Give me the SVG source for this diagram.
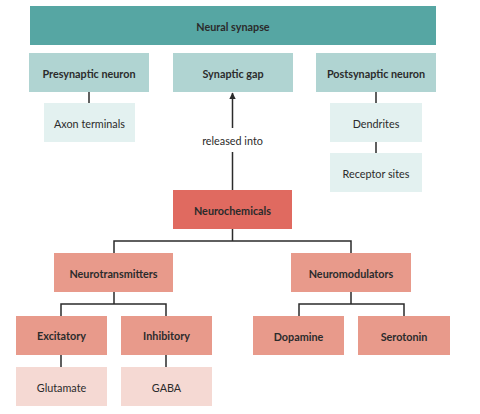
<svg xmlns="http://www.w3.org/2000/svg" width="480" height="414" viewBox="0 0 480 414">
<defs>
<style>
text{font-family:Lato,"Open Sans","Liberation Sans",sans-serif;font-size:10.8px;fill:#2b2b2b;text-anchor:middle;dominant-baseline:central}
.b{font-weight:bold}
.c1{fill:#56a6a3}.c2{fill:#b0d4d2}.c3{fill:#e3f1f0}
.r1{fill:#e06a60}.r2{fill:#e89a8b}.r3{fill:#f5d9d3}
.ln{fill:none;stroke:#2b2b2b;stroke-width:1.5}
</style>
<marker id="ah" markerWidth="8" markerHeight="8" refX="6" refY="4" orient="auto" markerUnits="userSpaceOnUse">
<path d="M0,0.8 L6.5,4 L0,7.2 Z" fill="#2b2b2b"/>
</marker>
</defs>
<rect width="480" height="414" fill="#ffffff"/>
<g id="connectors">
<path class="ln" d="M89,92 V103"/>
<path class="ln" d="M376,92 V103 M376,142 V153"/>
<path class="ln" d="M232.5,190 V152" />
<path class="ln" d="M232.5,128 V93" marker-end="url(#ah)"/>
<text x="232.5" y="140.5">released into</text>
<path class="ln" d="M232.5,229 V241 M114,253 V241 H351 V253"/>
<path class="ln" d="M114,292 V304 M61,316 V304 H166 V316"/>
<path class="ln" d="M351,292 V304 M299,316 V304 H404 V316"/>
<path class="ln" d="M61,355 V367 M166,355 V367"/>
</g>
<g id="n-synapse"><rect class="c1" x="30" y="6" width="406" height="39"/><text class="b" x="233" y="26.5">Neural synapse</text></g>
<g id="n-pre"><rect class="c2" x="29" y="53" width="120" height="39"/><text class="b" x="89" y="73.5">Presynaptic neuron</text></g>
<g id="n-gap"><rect class="c2" x="173" y="53" width="120" height="39"/><text class="b" x="233" y="73.5">Synaptic gap</text></g>
<g id="n-post"><rect class="c2" x="316" y="53" width="120" height="39"/><text class="b" x="376" y="73.5">Postsynaptic neuron</text></g>
<g id="n-axon"><rect class="c3" x="44" y="103" width="91" height="39"/><text x="89.5" y="123.5">Axon terminals</text></g>
<g id="n-dend"><rect class="c3" x="330" y="103" width="92" height="39"/><text x="376" y="123.5">Dendrites</text></g>
<g id="n-recep"><rect class="c3" x="330" y="153" width="92" height="39"/><text x="376" y="173.5">Receptor sites</text></g>
<g id="n-neurochem"><rect class="r1" x="173" y="190" width="119" height="39"/><text class="b" x="232.5" y="210">Neurochemicals</text></g>
<g id="n-nt"><rect class="r2" x="54" y="253" width="119" height="39"/><text class="b" x="113.5" y="273.5">Neurotransmitters</text></g>
<g id="n-nm"><rect class="r2" x="291" y="253" width="120" height="39"/><text class="b" x="351" y="273.5">Neuromodulators</text></g>
<g id="n-exc"><rect class="r2" x="16" y="316" width="91" height="39"/><text class="b" x="61.5" y="335.5">Excitatory</text></g>
<g id="n-inh"><rect class="r2" x="121" y="316" width="91" height="39"/><text class="b" x="166.5" y="335.5">Inhibitory</text></g>
<g id="n-dop"><rect class="r2" x="253" y="316" width="91" height="39"/><text class="b" x="298.5" y="336">Dopamine</text></g>
<g id="n-ser"><rect class="r2" x="358" y="316" width="92" height="39"/><text class="b" x="404" y="336">Serotonin</text></g>
<g id="n-glu"><rect class="r3" x="16" y="367" width="91" height="39"/><text x="61.5" y="387">Glutamate</text></g>
<g id="n-gaba"><rect class="r3" x="121" y="367" width="91" height="39"/><text x="166.5" y="387">GABA</text></g>
</svg>
